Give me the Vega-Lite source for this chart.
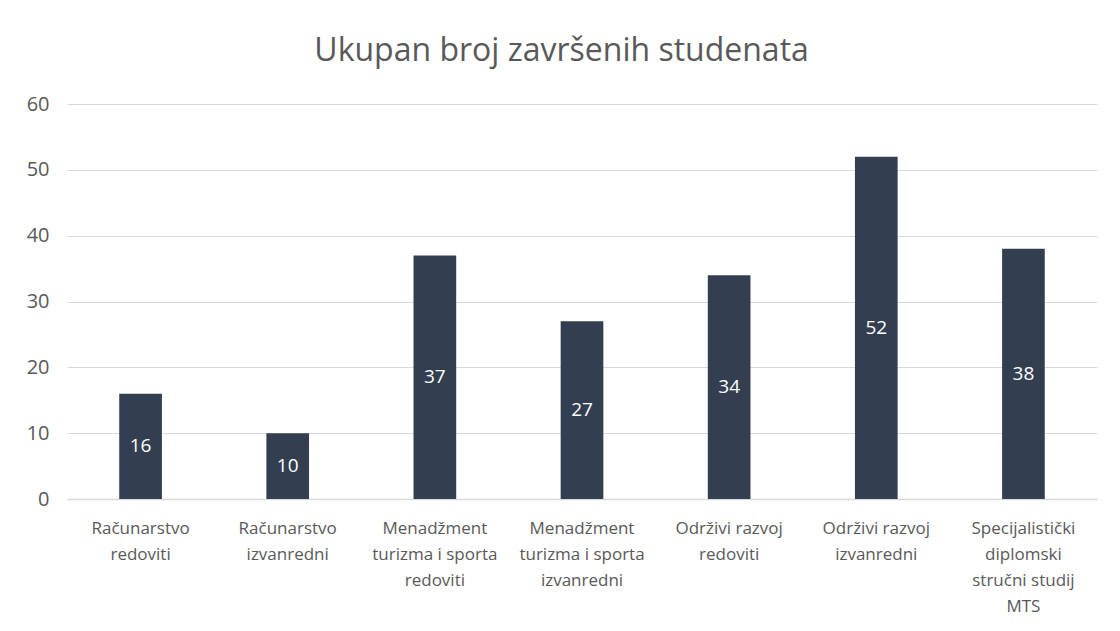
{
  "$schema": "https://vega.github.io/schema/vega-lite/v6.json",
  "width": 1030,
  "height": 395,
  "autosize": {"type": "none"},
  "padding": {"left": 67, "top": 104, "right": 23, "bottom": 132},
  "background": "white",
  "title": {
    "text": "Ukupan broj završenih studenata",
    "font": "Open Sans",
    "fontSize": 32,
    "fontWeight": "normal",
    "color": "#595959",
    "anchor": "middle",
    "frame": "bounds",
    "offset": 1,
    "baseline": "alphabetic"
  },
  "config": {
    "view": {"stroke": null},
    "font": "Open Sans"
  },
  "data": {
    "values": [
      {"program": "Računarstvo\nredoviti", "count": 16},
      {"program": "Računarstvo\nizvanredni", "count": 10},
      {"program": "Menadžment\nturizma i sporta\nredoviti", "count": 37},
      {"program": "Menadžment\nturizma i sporta\nizvanredni", "count": 27},
      {"program": "Održivi razvoj\nredoviti", "count": 34},
      {"program": "Održivi razvoj\nizvanredni", "count": 52},
      {"program": "Specijalistički\ndiplomski\nstručni studij\nMTS", "count": 38}
    ]
  },
  "encoding": {
    "x": {
      "field": "program",
      "type": "nominal",
      "sort": null,
      "title": null,
      "scale": {"paddingInner": 0.71, "paddingOuter": 0.355},
      "axis": {
        "labelAngle": 0,
        "labelExpr": "split(datum.label, '\\n')",
        "labelFont": "Open Sans",
        "labelFontSize": 17,
        "labelColor": "#595959",
        "labelLineHeight": 26,
        "labelPadding": 21,
        "labelBaseline": "top",
        "labelLimit": 300,
        "ticks": false,
        "domain": true,
        "domainColor": "#d9d9d9",
        "domainWidth": 1.5
      }
    }
  },
  "layer": [
    {
      "mark": {"type": "bar", "color": "#333F50"},
      "encoding": {
        "y": {
          "field": "count",
          "type": "quantitative",
          "title": null,
          "scale": {"domain": [0, 60]},
          "axis": {
            "values": [0, 10, 20, 30, 40, 50, 60],
            "labelFont": "Open Sans",
            "labelFontSize": 20,
            "labelColor": "#595959",
            "labelPadding": 18,
            "ticks": false,
            "domain": false,
            "gridColor": "#d9d9d9",
            "gridWidth": 1
          }
        }
      }
    },
    {
      "transform": [{"calculate": "datum.count / 2", "as": "mid"}],
      "mark": {"type": "text", "color": "white", "fontSize": 19, "font": "Open Sans", "baseline": "middle"},
      "encoding": {
        "y": {"field": "mid", "type": "quantitative"},
        "text": {"field": "count", "type": "quantitative"}
      }
    }
  ]
}
